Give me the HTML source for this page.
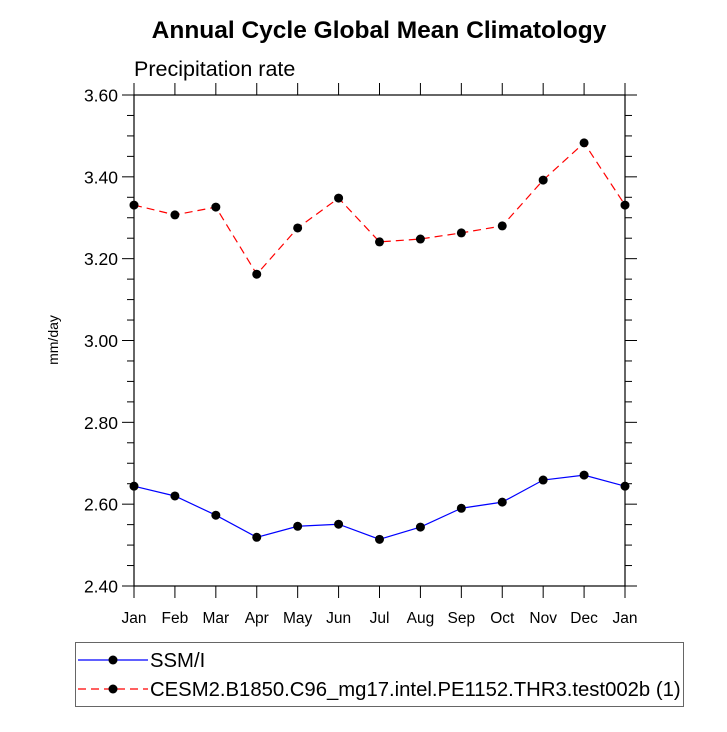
<!DOCTYPE html>
<html><head><meta charset="utf-8"><style>
body{margin:0;background:#fff;}
svg text{font-family:"Liberation Sans",Helvetica,sans-serif;fill:#000;}
</style></head><body>
<svg width="727" height="727" viewBox="0 0 727 727">
<text x="379" y="38" font-size="24.5" font-weight="bold" text-anchor="middle">Annual Cycle Global Mean Climatology</text>
<text x="134" y="76" font-size="21.5">Precipitation rate</text>
<text transform="translate(58,340) rotate(-90)" font-size="14" text-anchor="middle">mm/day</text>
<g id="axes"></g>
<g id="series"></g>
<rect x="75.5" y="642.5" width="608" height="64" fill="none" stroke="#666" stroke-width="1"/>
<g>
<line x1="78" y1="660" x2="148" y2="660" stroke="#0000ff" stroke-width="1.2"/>
<circle cx="113" cy="660" r="4.5" fill="#000"/>
<text x="150" y="667" font-size="20.3">SSM/I</text>
</g>
<g>
<line x1="78" y1="689" x2="148" y2="689" stroke="#ff0000" stroke-width="1.2" stroke-dasharray="8,5"/>
<circle cx="113" cy="689" r="4.5" fill="#000"/>
<text x="150" y="696" font-size="20.3">CESM2.B1850.C96_mg17.intel.PE1152.THR3.test002b (1)</text>
</g>
</svg>
<script>
const months = ["Jan","Feb","Mar","Apr","May","Jun","Jul","Aug","Sep","Oct","Nov","Dec","Jan"];
const ssmiValues = [2.644,2.620,2.573,2.519,2.546,2.551,2.514,2.544,2.590,2.605,2.659,2.671,2.644];
const cesmValues = [3.331,3.307,3.326,3.162,3.275,3.348,3.241,3.248,3.263,3.280,3.392,3.483,3.331];
const yTicks = [2.40,2.60,2.80,3.00,3.20,3.40,3.60];
const yTickLabels = ["2.40","2.60","2.80","3.00","3.20","3.40","3.60"];

const NS="http://www.w3.org/2000/svg";
const L=134,R=625,T=95,B=586,yMin=2.4,yMax=3.6;
const xs=i=>L+(R-L)*i/(months.length-1);
const ys=v=>B-(B-T)*(v-yMin)/(yMax-yMin);
function mk(tag,attrs,parent){const e=document.createElementNS(NS,tag);for(const k in attrs)e.setAttribute(k,attrs[k]);parent.appendChild(e);return e;}
const ax=document.getElementById('axes');
const frame=mk('rect',{x:L,y:T,width:R-L,height:B-T,fill:'none',stroke:'#000','stroke-width':1.2},ax);


months.forEach((m,i)=>{
  const x=xs(i);
  mk('line',{x1:x,y1:B,x2:x,y2:B+12,stroke:'#000'},ax);
  mk('line',{x1:x,y1:T,x2:x,y2:T-12,stroke:'#000'},ax);
  const t=mk('text',{x:x,y:B+37,'font-size':15.5,'text-anchor':'middle'},ax);
  t.textContent=m;
  
  
});
yTicks.forEach((v,i)=>{
  const y=ys(v);
  mk('line',{x1:L,y1:y,x2:L-12,y2:y,stroke:'#000'},ax);
  mk('line',{x1:R,y1:y,x2:R+12,y2:y,stroke:'#000'},ax);
  const t=mk('text',{x:L-16,y:y+6.5,'font-size':17.5,'text-anchor':'end'},ax);
  t.textContent=yTickLabels[i];
  
  
  if(i<yTicks.length-1){for(let k=1;k<4;k++){const yy=ys(v+0.05*k);
    mk('line',{x1:L,y1:yy,x2:L-7,y2:yy,stroke:'#000'},ax);
    mk('line',{x1:R,y1:yy,x2:R+7,y2:yy,stroke:'#000'},ax);}}
});
const sg=document.getElementById('series');
function series(vals,color,dash,name){
  const pts=vals.map((v,i)=>xs(i)+','+ys(v)).join(' ');
  const pl=mk('polyline',{points:pts,fill:'none',stroke:color,'stroke-width':1.2,'stroke-dasharray':dash},sg);
  
  
  vals.forEach((v,i)=>{const c=mk('circle',{cx:xs(i),cy:ys(v),r:4.5,fill:'#000'},sg);
    
    });
}
series(ssmiValues,'#0000ff','none','ssmi');
series(cesmValues,'#ff0000','8,5','cesm');
</script>
</body></html>
